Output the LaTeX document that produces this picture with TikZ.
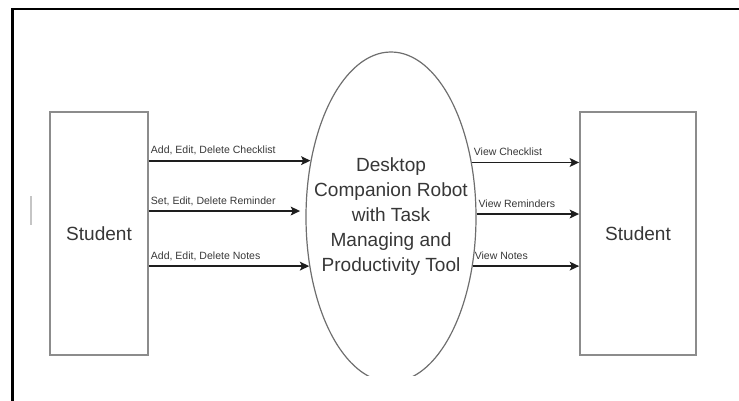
\documentclass[tikz,border=0pt]{standalone}
\usepackage{fontspec}
\setmainfont{Liberation Sans}
\usetikzlibrary{arrows.meta}
\usetikzlibrary{shapes.geometric}

\definecolor{boxgrey}{RGB}{140,140,140}
\definecolor{ellgrey}{RGB}{110,110,110}
\definecolor{textgrey}{RGB}{55,55,55}
\definecolor{flowdark}{RGB}{30,30,30}

\begin{document}
\begin{tikzpicture}[x=0.75pt,y=0.75pt,yscale=-1,xscale=1,
    entity/.style={draw=boxgrey, line width=1.3pt, minimum height=182.25pt, inner sep=0pt,
        text=textgrey, font=\fontsize{14.3}{18.75}\selectfont},
    process/.style={ellipse, draw=ellgrey, line width=0.9pt, minimum width=127.5pt, minimum height=247.5pt,
        inner xsep=-20pt, inner ysep=0pt, align=center, text=textgrey, font=\fontsize{14.3}{18.75}\selectfont},
    flow/.style={draw=flowdark, line width=1.4pt, -{Stealth[length=7pt, width=6.5pt, inset=1.5pt]}},
    flowlabel/.style={anchor=south west, inner xsep=1.5pt, inner ysep=0pt, outer xsep=0pt, outer ysep=5pt,
        text depth=0pt, text=textgrey, font=\fontsize{7.9}{9}\selectfont}
    ]
        \useasboundingbox (0,0) rectangle (739,400);

        %Frame
        \draw [line width=2.2pt] (12.5,401) -- (12.5,9) -- (740,9) ;
        %Straight Lines
        \draw [color=boxgrey!50, line width=0.8pt] (31,196) -- (31,225) ;

        % External entities
        \node [entity, minimum width=73.5pt] (studentL) at (99,233.5) {Student};
        \node [entity, minimum width=87pt] (studentR) at (638,233.5) {Student};

        % Process
        \begin{scope}
            \clip (0,0) rectangle (739,375);
            \node [process] (robot) at (391,217) {Desktop\\Companion Robot\\with Task\\Managing and\\Productivity Tool};
        \end{scope}

        % Inputs
        \draw [flow] (studentL.east |- robot.145) -- node [flowlabel, pos=0] {Add, Edit, Delete Checklist} (robot.145) ;
        \draw [flow, shorten >=4pt] (studentL.east |- robot.176.6) -- node [flowlabel, pos=0] {Set, Edit, Delete Reminder} (robot.176.6) ;
        \draw [flow] (studentL.east |- robot.211.1) -- node [flowlabel, pos=0] {Add, Edit, Delete Notes} (robot.211.1) ;

        % Outputs
        \draw [flow] (robot.34.5) -- node [flowlabel, pos=0] {View Checklist} (studentR.west |- robot.34.5) ;
        \draw [flow] (robot.2.7) -- node [flowlabel, pos=0] {View Reminders} (studentR.west |- robot.2.7) ;
        \draw [flow] (robot.329.4) -- node [flowlabel, pos=0] {View Notes} (studentR.west |- robot.329.4) ;

    \end{tikzpicture}
\end{document}
